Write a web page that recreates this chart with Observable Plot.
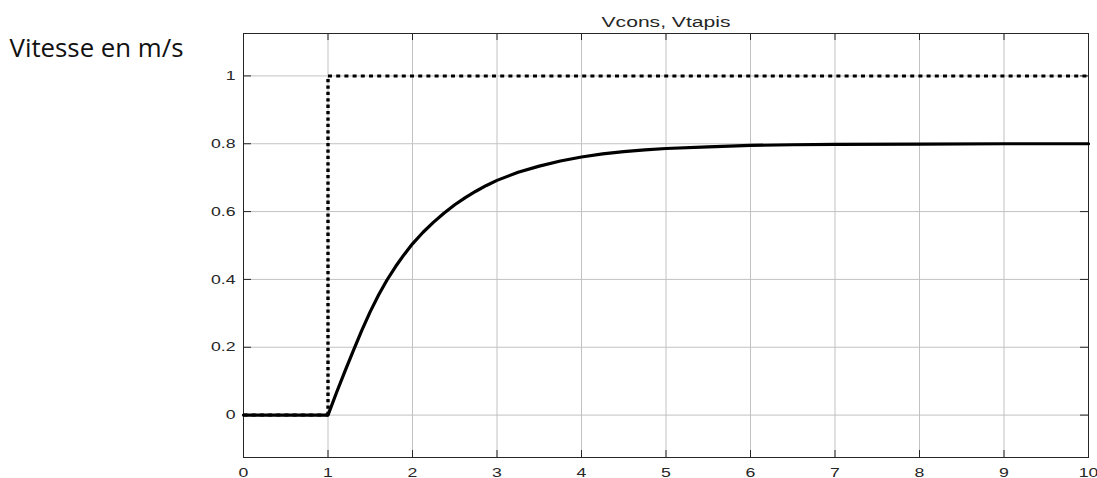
<!DOCTYPE html>
<html>
<head>
<meta charset="utf-8">
<script src="https://cdn.jsdelivr.net/npm/d3@7"></script>
<script src="https://cdn.jsdelivr.net/npm/@observablehq/plot@0.6"></script>
<style>
  html, body { margin: 0; padding: 0; background: #fff; }
  #chart { width: 1097px; height: 478px; overflow: hidden; }
</style>
</head>
<body>
<div id="chart"></div>
<script>
// ---- Data ----
const title = "Vcons, Vtapis";
const yLabel = "Vitesse en m/s";

const xTicks = [0, 1, 2, 3, 4, 5, 6, 7, 8, 9, 10];
const yTicks = [0, 0.2, 0.4, 0.6, 0.8, 1];
const xDomain = [0, 10];
const yDomain = [-0.125, 1.125];

// Vcons : set-point step (dotted)
const vconsT = [0, 1, 1, 10];
const vconsV = [0, 0, 1, 1];

// Vtapis : belt speed response (solid)
const vtapisT = [0, 1, 1.1, 1.2, 1.3, 1.4, 1.5, 1.6, 1.7, 1.8, 1.9, 2.0, 2.125, 2.25, 2.375, 2.5, 2.625, 2.75, 2.875, 3.0, 3.25, 3.5, 3.75, 4.0, 4.25, 4.5, 4.75, 5.0, 5.5, 6.0, 6.5, 7.0, 8.0, 9.0, 10.0];
const vtapisV = [0, 0, 0.066, 0.129, 0.19, 0.25, 0.305, 0.355, 0.399, 0.438, 0.473, 0.505, 0.539, 0.569, 0.596, 0.62, 0.641, 0.66, 0.677, 0.692, 0.716, 0.734, 0.749, 0.761, 0.77, 0.777, 0.782, 0.786, 0.791, 0.795, 0.797, 0.798, 0.799, 0.8, 0.8];

// ---- Tables built from the arrays ----
const vtapis = vtapisT.map((t, i) => ({t, v: vtapisV[i]}));
const vconsSeg = vconsT.slice(1).map((t, i) => ({x1: vconsT[i], y1: vconsV[i], x2: t, y2: vconsV[i + 1]}));
const segH = vconsSeg.filter(d => d.y1 === d.y2);
const segV = vconsSeg.filter(d => d.x1 === d.x2);

const W = 1097, H = 478;
const mL = 243, mR = 9, mT = 33, mB = 21;
const fw = W - mL - mR, fh = H - mT - mB;
const ink = "#262626";
const gridColor = "#c2c2c2";

const plot = Plot.plot({
  width: W,
  height: H,
  marginLeft: mL,
  marginRight: mR,
  marginTop: mT,
  marginBottom: mB,
  style: {fontFamily: "'Liberation Sans', Arial, sans-serif", fontSize: "13px", color: ink, background: "#fff", overflow: "visible"},
  x: {domain: xDomain, label: null, ticks: xTicks},
  y: {domain: yDomain, label: null, ticks: yTicks},
  marks: [
    // grid
    Plot.ruleX(xTicks, {x: d => d, stroke: gridColor, strokeWidth: 1}),
    Plot.ruleY(yTicks, {y: d => d, stroke: gridColor, strokeWidth: 1}),
    // inward ticks
    Plot.ruleY(yTicks, {y: d => d, stroke: ink, insetRight: fw - 8}),
    Plot.ruleY(yTicks, {y: d => d, stroke: ink, insetLeft: fw - 8}),
    Plot.ruleX(xTicks, {x: d => d, stroke: ink, insetTop: fh - 7}),
    Plot.ruleX(xTicks, {x: d => d, stroke: ink, insetBottom: fh - 7}),
    Plot.frame({stroke: ink, strokeWidth: 1}),
    // axes labels
    Plot.axisX(xTicks, {tickSize: 0, tickPadding: 10, fill: ink}),
    Plot.axisY(yTicks, {tickSize: 0, tickPadding: 8, fill: ink, tickFormat: d => String(d)}),
    // Vcons dotted step
    Plot.link(segH, {x1: "x1", y1: "y1", x2: "x2", y2: "y2", stroke: "#000", strokeWidth: 3, strokeDasharray: "4,4.2", strokeLinecap: "butt"}),
    Plot.link(segV, {x1: "x1", y1: "y1", x2: "x2", y2: "y2", stroke: "#000", strokeWidth: 3.4, strokeDasharray: "3.3,3.1", strokeLinecap: "butt"}),
    // Vtapis solid response
    Plot.line(vtapis, {x: "t", y: "v", stroke: "#000", strokeWidth: 3.2, curve: "linear", strokeLinejoin: "round"}),
    // title
    Plot.text([title], {frameAnchor: "top", text: d => d, dy: -6.3, lineAnchor: "bottom", textAnchor: "middle", fontSize: 15.5, fill: ink}),
    // y label (annotation)
    Plot.text([yLabel], {frameAnchor: "top-left", text: d => d, dx: 9 - mL, dy: 23.7, lineAnchor: "bottom", textAnchor: "start", fontSize: 25.8, fontFamily: "'Open Sans', sans-serif", fill: "#111"})
  ]
});

// horizontal stretch of the chart's own text (the source image is widened)
const sx = 1.36;
plot.querySelectorAll("text").forEach(el => {
  if (el.textContent === yLabel) return;
  const t = el.getAttribute("transform") || "";
  el.setAttribute("transform", (t + ` scale(${sx},1)`).trim());
  const x = el.getAttribute("x");
  if (x != null && x !== "") el.setAttribute("x", (+x) / sx);
});

document.getElementById("chart").appendChild(plot);
</script>
</body>
</html>
